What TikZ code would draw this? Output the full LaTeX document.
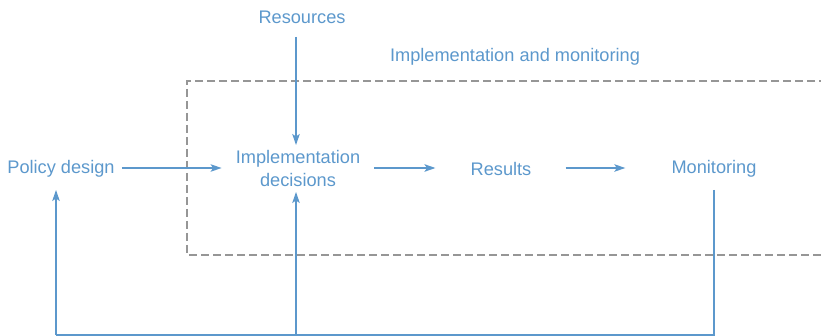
\documentclass[tikz,border=0pt]{standalone}
\usepackage{fontspec}
\setmainfont{Liberation Sans}
\usetikzlibrary{arrows.meta}
\definecolor{flowblue}{RGB}{92,152,204}
\definecolor{boxgray}{RGB}{150,150,150}
\begin{document}
\begin{tikzpicture}[x=1pt,y=-1pt,
  lbl/.style={text=flowblue,font=\fontsize{18.2}{23}\selectfont,inner sep=0pt,align=center},
  arr/.style={draw=flowblue,line width=1.4pt,-{Stealth[length=11pt,width=7.5pt,inset=2.5pt]}},
  ln/.style={draw=flowblue,line width=1.4pt}]
\useasboundingbox (0,0) rectangle (821,336);
\draw[boxgray,line width=1.1pt,dash pattern=on 8pt off 4pt] (827,81) -- (187,81) -- (187,255) -- (827,255);
\node[lbl] (res) at (302,17) {Resources};
\node[lbl] (im) at (515,57) {Implementation and monitoring};
\node[lbl] (pd) at (61,169) {Policy design};
\node[lbl] (impl) at (298,168) {Implementation\\decisions};
\node[lbl] (rs) at (501,169) {Results};
\node[lbl] (mon) at (714,169) {Monitoring};
\coordinate (resout) at (296,37);
\coordinate (implin) at (296,145);
\coordinate (monout) at (714,190);
\coordinate (mb) at (714,335);
\coordinate (pb) at (56,335);
\coordinate (pin) at (56,190);
\coordinate (ib) at (296,335);
\coordinate (iin) at (296,192);
\draw[arr,shorten <=7pt,shorten >=14pt] ([yshift=1pt]pd.east) -- ([yshift=1pt]pd.east -| impl.west);
\draw[arr,shorten <=14pt,shorten >=35pt] ([yshift=1pt]impl.east |- rs.east) -- ([yshift=1pt]rs.west);
\draw[arr,shorten <=34pt,shorten >=46pt] ([yshift=1pt]rs.east) -- ([yshift=1pt]mon.west);
\draw[arr] (resout) -- (implin);
\draw[ln] (monout) -- (mb) -- (pb);
\draw[arr] (pb) -- (pin);
\draw[arr] (ib) -- (iin);
\end{tikzpicture}
\end{document}
